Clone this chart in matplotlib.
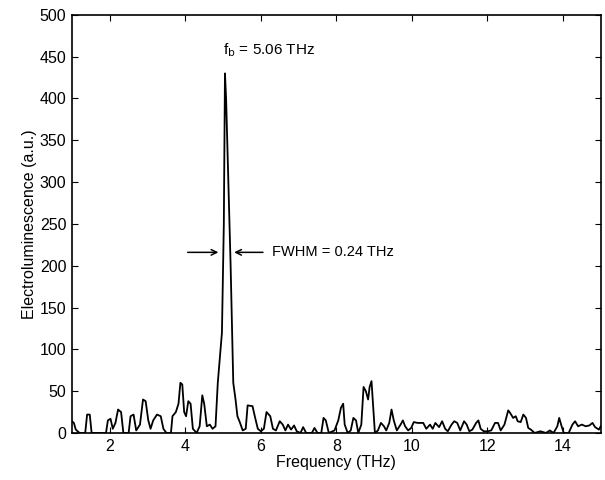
import numpy as np
from matplotlib import pyplot as plt

plt.rcParams['font.family'] = ['Liberation Sans', 'DejaVu Sans']

# spectre (THz, u.a.)
freq = [1.0, 1.05, 1.1, 1.2, 1.35, 1.4, 1.47, 1.52, 1.9, 1.95, 2.02, 2.08, 2.15, 2.22, 2.3, 2.36,
        2.5, 2.55, 2.63, 2.7, 2.8, 2.88, 2.95, 3.02, 3.08, 3.15, 3.25, 3.35, 3.42, 3.5, 3.62, 3.66,
        3.75, 3.82, 3.87, 3.92, 3.97, 4.02, 4.08, 4.14, 4.2, 4.3, 4.38, 4.45, 4.5, 4.57, 4.65, 4.72,
        4.8, 4.86, 4.97, 5.02, 5.05, 5.08, 5.14, 5.2, 5.27, 5.33, 5.38, 5.45, 5.52, 5.6, 5.65, 5.78,
        5.85, 5.92, 6.0, 6.08, 6.15, 6.25, 6.32, 6.4, 6.5, 6.58, 6.65, 6.72, 6.8, 6.88, 6.95, 7.05,
        7.12, 7.2, 7.35, 7.42, 7.5, 7.6, 7.66, 7.72, 7.8, 7.95, 8.05, 8.12, 8.18, 8.22, 8.3, 8.38,
        8.45, 8.52, 8.58, 8.66, 8.72, 8.78, 8.84, 8.88, 8.93, 8.97, 9.02, 9.1, 9.18, 9.26, 9.32, 9.4,
        9.46, 9.52, 9.6, 9.7, 9.76, 9.82, 9.9, 9.98, 10.05, 10.15, 10.3, 10.38, 10.48, 10.55, 10.62,
        10.72, 10.8, 10.88, 10.95, 11.05, 11.12, 11.2, 11.28, 11.38, 11.45, 11.52, 11.6, 11.7, 11.76,
        11.82, 11.9, 12.0, 12.1, 12.2, 12.28, 12.35, 12.45, 12.55, 12.6, 12.68, 12.75, 12.8, 12.88,
        12.95, 13.02, 13.08, 13.15, 13.25, 13.4, 13.55, 13.65, 13.75, 13.85, 13.9, 13.95, 14.02,
        14.15, 14.25, 14.32, 14.4, 14.5, 14.6, 14.7, 14.78, 14.85, 14.95, 15.0]
el = [14, 12, 4, 0, 0, 22, 22, 0, 0, 15, 17, 5, 12, 28, 25, 0,
      0, 20, 22, 3, 10, 40, 38, 15, 5, 15, 22, 20, 5, 0, 0, 20,
      25, 35, 60, 58, 25, 20, 38, 35, 5, 0, 8, 45, 35, 8, 10, 5,
      8, 60, 120, 250, 430, 400, 300, 200, 60, 40, 20, 12, 3, 5, 33, 32,
      18, 5, 2, 5, 25, 20, 5, 3, 14, 10, 3, 10, 4, 9, 2, 0,
      7, 0, 0, 6, 0, 0, 18, 15, 0, 3, 15, 30, 35, 10, 0, 3,
      18, 15, 0, 10, 55, 50, 40, 55, 62, 35, 0, 3, 12, 8, 3, 12,
      28, 15, 3, 10, 15, 8, 3, 6, 13, 12, 12, 5, 10, 5, 12,
      7, 14, 5, 2, 10, 14, 12, 3, 14, 10, 2, 4, 12, 15,
      5, 2, 2, 3, 12, 12, 3, 10, 27, 24, 18, 20, 14, 13,
      22, 18, 6, 4, 0, 2, 0, 3, 0, 8, 18, 10, 0,
      0, 10, 14, 8, 10, 8, 9, 12, 7, 4, 8]

x_ticks = [2, 4, 6, 8, 10, 12, 14]
y_ticks = np.arange(0, 501, 50)

fig = plt.figure(figsize=(6.05, 4.8), dpi=100)
ax = fig.add_axes([0.119, 0.098, 0.874, 0.871])
ax.plot(freq, el, color='black', linewidth=1.3)

ax.set_xlim(1, 15)
ax.set_ylim(0, 500)
ax.set_xticks(x_ticks)
ax.set_yticks(y_ticks)
ax.tick_params(direction='in', top=True, right=True, labelsize=11.5, length=4, pad=4)
for s in ax.spines.values():
    s.set_linewidth(1.2)
ax.set_xlabel('Frequency (THz)', fontsize=11.5, labelpad=1)
ax.set_ylabel('Electroluminescence (a.u.)', fontsize=11.5, labelpad=2)

# annotations
ax.text(5.0, 458, r'f$_\mathrm{b}$ = 5.06 THz', fontsize=11, va='center', ha='left')
ax.annotate('', xy=(4.95, 216), xytext=(3.99, 216),
            arrowprops=dict(arrowstyle='->', color='black', lw=1.1))
ax.annotate('', xy=(5.22, 216), xytext=(6.13, 216),
            arrowprops=dict(arrowstyle='->', color='black', lw=1.1))
ax.text(6.29, 216, 'FWHM = 0.24 THz', fontsize=10.5, va='center', ha='left')

plt.savefig('out.png', dpi=100)
